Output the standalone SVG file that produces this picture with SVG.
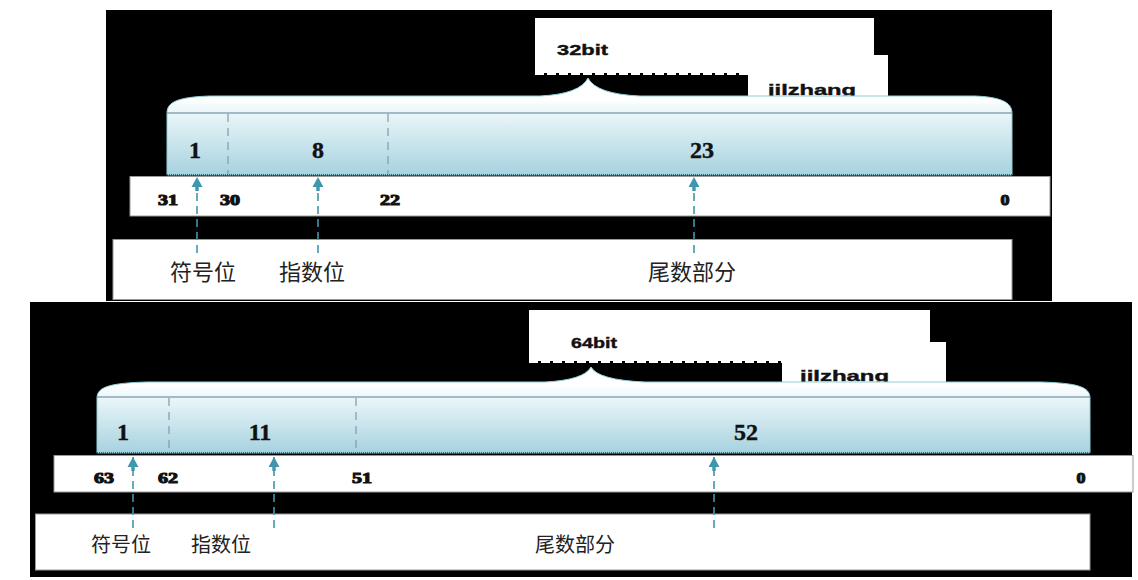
<svg xmlns="http://www.w3.org/2000/svg" width="1138" height="580" viewBox="0 0 1138 580">
  <defs>
    <linearGradient id="barGrad" x1="0" y1="0" x2="0" y2="1">
      <stop offset="0" stop-color="#ffffff"/>
      <stop offset="0.22" stop-color="#ffffff"/>
      <stop offset="0.3" stop-color="#f1f9fb"/>
      <stop offset="1" stop-color="#a6d2df"/>
    </linearGradient>
    <marker id="arrow" markerUnits="userSpaceOnUse" markerWidth="14" markerHeight="12" refX="14" refY="6" orient="auto" viewBox="0 0 14 12">
      <path d="M14,6 L4,0.5 L4,4.3 L0,4.3 L0,7.7 L4,7.7 L4,11.5 Z" fill="#3f97ad"/>
    </marker>
    <style>
      .panel { fill: #000000; }
      .box { fill: #ffffff; stroke: #9a9a9a; stroke-width: 1; }
      .plain { fill: #ffffff; }
      .bar { fill: url(#barGrad); stroke: #8fcfd6; stroke-width: 1; }
      .rule { stroke: #8aa6b6; stroke-width: 1.5; fill: none; }
      .div { stroke: #7f9aaa; stroke-width: 1.2; stroke-dasharray: 8 6; fill: none; }
      .dots { stroke: #2c3a44; stroke-width: 1.5; stroke-dasharray: 1 1; fill: none; }
      .dash { stroke: #ffffff; stroke-width: 2; stroke-dasharray: 9 3; fill: none; }
      .conn { stroke: #3f97ad; stroke-width: 1.6; stroke-dasharray: 8 5; fill: none; }
      .cell { font-family: "Liberation Serif", serif; font-weight: bold; font-size: 24px; fill: #111; stroke: #111; stroke-width: 0.4; text-anchor: middle; }
      .bit { font-family: "Liberation Serif", serif; font-weight: bold; font-size: 14px; fill: #111; stroke: #111; stroke-width: 1; text-anchor: middle; }
      .title { font-family: "Liberation Sans", sans-serif; font-weight: bold; font-size: 15px; fill: #111; stroke: #111; stroke-width: 0.4; }
      .cn { font-family: "Liberation Sans", "Noto Sans CJK SC", sans-serif; font-size: 22px; fill: #222; text-anchor: middle; }
      .cn2 { font-family: "Liberation Sans", "Noto Sans CJK SC", sans-serif; font-size: 20px; fill: #222; text-anchor: middle; }
    </style>
  </defs>

  <rect x="0" y="0" width="1138" height="580" fill="#ffffff"/>

  <!-- ===== 32-bit panel ===== -->
  <g id="panel32">
    <rect class="panel" x="106" y="10" width="946" height="291"/>
  </g>
  <g id="title32">
    <rect class="plain" x="535" y="18" width="339" height="55"/>
    <rect class="plain" x="748" y="55" width="140" height="41"/>
    <line class="dash" x1="535" y1="74" x2="748" y2="74"/>
    <text class="title" x="557" y="55" textLength="51" lengthAdjust="spacingAndGlyphs">32bit</text>
    <text class="title" x="768" y="95" textLength="88" lengthAdjust="spacingAndGlyphs">jilzhang</text>
  </g>
  <g id="bar32">
    <path class="bar" d="M167,175 V113 C167,102 178,97 210,96 H540 Q580,94 588,78 Q596,94 640,96 H975 C1000,97 1012,102 1012,113 V175 Z"/>
    <line class="rule" x1="167" y1="113" x2="1012" y2="113"/>
    <line class="div" x1="228" y1="114" x2="228" y2="174"/>
    <line class="div" x1="388" y1="114" x2="388" y2="174"/>
    <line class="dots" x1="167" y1="175" x2="1012" y2="175"/>
  </g>
  <g id="cell32-sign"><text class="cell" x="195" y="158">1</text></g>
  <g id="cell32-exp"><text class="cell" x="318" y="158">8</text></g>
  <g id="cell32-mant"><text class="cell" x="702" y="158">23</text></g>
  <g id="bits32">
    <rect class="box" x="130" y="176.5" width="920" height="39.5"/>
    <text class="bit" x="168" y="205" textLength="20" lengthAdjust="spacingAndGlyphs">31</text>
    <text class="bit" x="230" y="205" textLength="20" lengthAdjust="spacingAndGlyphs">30</text>
    <text class="bit" x="390" y="205" textLength="20" lengthAdjust="spacingAndGlyphs">22</text>
    <text class="bit" x="1005" y="205" textLength="9" lengthAdjust="spacingAndGlyphs">0</text>
  </g>
  <g id="labels32">
    <rect class="box" x="113" y="239.5" width="899" height="60"/>
    <text class="cn" x="203" y="280">符号位</text>
    <text class="cn" x="312" y="280">指数位</text>
    <text class="cn" x="692" y="280">尾数部分</text>
  </g>

  <!-- ===== 64-bit panel ===== -->
  <g id="panel64">
    <rect class="panel" x="30" y="302" width="1102" height="275"/>
  </g>
  <g id="title64">
    <rect class="plain" x="529" y="310" width="401" height="51"/>
    <rect class="plain" x="782" y="342" width="164" height="40"/>
    <line class="dash" x1="529" y1="362" x2="782" y2="362"/>
    <text class="title" x="571" y="348" textLength="46" lengthAdjust="spacingAndGlyphs">64bit</text>
    <text class="title" x="800" y="381" textLength="89" lengthAdjust="spacingAndGlyphs">jilzhang</text>
  </g>
  <g id="bar64">
    <path class="bar" d="M97,453 V398 C97,387 110,383 147,382 H545 Q584,380 591,367 Q598,380 645,382 H1040 C1078,383 1090,387 1090,398 V453 Z"/>
    <line class="rule" x1="97" y1="397" x2="1090" y2="397"/>
    <line class="div" x1="169" y1="398" x2="169" y2="452"/>
    <line class="div" x1="356" y1="398" x2="356" y2="452"/>
    <line class="dots" x1="97" y1="453" x2="1090" y2="453"/>
  </g>
  <g id="cell64-sign"><text class="cell" x="123" y="440">1</text></g>
  <g id="cell64-exp"><text class="cell" x="260" y="440">11</text></g>
  <g id="cell64-mant"><text class="cell" x="746" y="440">52</text></g>
  <g id="bits64">
    <rect class="box" x="54" y="455.5" width="1079" height="36.5"/>
    <text class="bit" x="104" y="483" textLength="20" lengthAdjust="spacingAndGlyphs">63</text>
    <text class="bit" x="168" y="483" textLength="20" lengthAdjust="spacingAndGlyphs">62</text>
    <text class="bit" x="362" y="483" textLength="20" lengthAdjust="spacingAndGlyphs">51</text>
    <text class="bit" x="1081" y="483" textLength="9" lengthAdjust="spacingAndGlyphs">0</text>
  </g>
  <g id="labels64">
    <rect class="box" x="35.5" y="514" width="1054.5" height="56"/>
    <text class="cn2" x="121" y="552">符号位</text>
    <text class="cn2" x="221" y="552">指数位</text>
    <text class="cn2" x="575" y="552">尾数部分</text>
  </g>

  <!-- ===== connectors ===== -->
  <g id="connectors">
    <line class="conn" x1="197" y1="253" x2="197" y2="177" marker-end="url(#arrow)"/>
    <line class="conn" x1="318" y1="253" x2="318" y2="177" marker-end="url(#arrow)"/>
    <line class="conn" x1="694" y1="253" x2="694" y2="177" marker-end="url(#arrow)"/>
    <line class="conn" x1="133" y1="528" x2="133" y2="457" marker-end="url(#arrow)"/>
    <line class="conn" x1="274" y1="528" x2="274" y2="457" marker-end="url(#arrow)"/>
    <line class="conn" x1="714" y1="528" x2="714" y2="457" marker-end="url(#arrow)"/>
  </g>
</svg>
